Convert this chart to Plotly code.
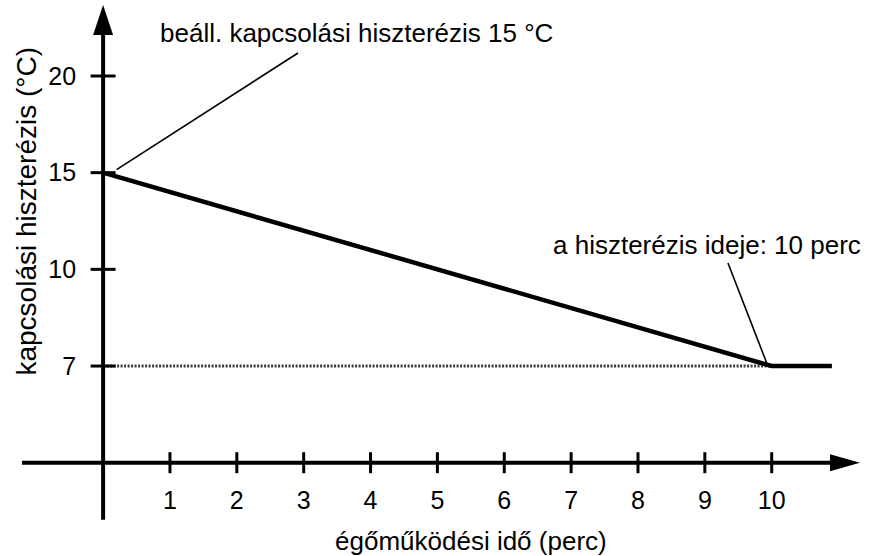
import numpy as np
import plotly.graph_objects as go

# --- data -----------------------------------------------------------------
burn_time = [0, 10, 10.9]          # égőműködési idő (perc)
hysteresis = [15, 7, 7]            # kapcsolási hiszterézis (°C)
x_ticks = [1, 2, 3, 4, 5, 6, 7, 8, 9, 10]
y_ticks = [7, 10, 15, 20]
y_tick_labels = ["7", "10", "15", "20"]
set_hysteresis = 15
min_hysteresis = 7
hysteresis_time = 10

# --- schematic vertical scale: tick values are drawn equally spaced -------
def level(v):
    return np.interp(v, y_ticks, np.arange(len(y_ticks)))

W, H = 875, 556
X_RANGE = [-1.542, 11.545]
Y_RANGE = [-1.965, 3.786]
BASE = -1.0  # level of the time axis, one step below the lowest tick


def dx(px):
    return px * (X_RANGE[1] - X_RANGE[0]) / W


def dy(px):
    return px * (Y_RANGE[1] - Y_RANGE[0]) / H


fig = go.Figure()

# dotted reference at the minimum hysteresis
fig.add_trace(go.Scatter(
    x=[0, hysteresis_time], y=[level(min_hysteresis)] * 2, mode="lines",
    line=dict(color="#3a3a3a", width=3, dash="2px,1.5px"),
    hoverinfo="skip", showlegend=False))

# hysteresis over burner run time
fig.add_trace(go.Scatter(
    x=burn_time, y=level(np.array(hysteresis)), mode="lines",
    line=dict(color="black", width=4.5), showlegend=False))

shapes = []
black = dict(color="black", width=4)

# axes with arrowheads
y_top = Y_RANGE[1] - dy(5)
x_tip = X_RANGE[0] + dx(860)
shapes.append(dict(type="line", x0=0, x1=0, y0=BASE - dy(57), y1=y_top - dy(28),
                   line=black))
shapes.append(dict(type="path", line=dict(width=0), fillcolor="black",
                   path=f"M {-dx(10)} {y_top - dy(30)} L 0 {y_top} L {dx(10)} {y_top - dy(30)} Z"))
shapes.append(dict(type="line", x0=X_RANGE[0] + dx(22), x1=x_tip - dx(28),
                   y0=BASE, y1=BASE, line=black))
shapes.append(dict(type="path", line=dict(width=0), fillcolor="black",
                   path=f"M {x_tip - dx(30)} {BASE + dy(8.5)} L {x_tip} {BASE} L {x_tip - dx(30)} {BASE - dy(8.5)} Z"))

# tick marks crossing the axes
for t in x_ticks:
    shapes.append(dict(type="line", x0=t, x1=t, y0=BASE - dy(10.5), y1=BASE + dy(10.5),
                       line=dict(color="black", width=3)))
for v in y_ticks:
    shapes.append(dict(type="line", x0=-dx(12.5), x1=dx(12.5), y0=level(v), y1=level(v),
                       line=dict(color="black", width=3)))

# leader lines for the callouts
thin = dict(color="black", width=1.6)
shapes.append(dict(type="line", x0=dx(13.5), y0=level(set_hysteresis) + dy(3),
                   x1=2.915, y1=3.238, line=thin))
shapes.append(dict(type="line", x0=hysteresis_time - dx(5), y0=level(min_hysteresis) + dy(3),
                   x1=9.346, y1=1.065, line=thin))

font = dict(family="Liberation Sans, Arial, sans-serif", color="black")

annotations = [
    dict(x=0.82, y=3.44, xref="x", yref="y", xanchor="left", yanchor="middle",
         text=f"beáll. kapcsolási hiszterézis {set_hysteresis} °C",
         showarrow=False, font=dict(size=26, **font)),
    dict(x=6.70, y=1.25, xref="x", yref="y", xanchor="left", yanchor="middle",
         text=f"a hiszterézis ideje: {hysteresis_time} perc",
         showarrow=False, font=dict(size=26, **font)),
    dict(x=5.50, y=-1.81, xref="x", yref="y", xanchor="center", yanchor="middle",
         text="égőműködési idő (perc)", showarrow=False, font=dict(size=26, **font)),
    dict(x=-1.15, y=1.60, xref="x", yref="y", xanchor="center", yanchor="middle",
         text="kapcsolási hiszterézis (°C)", textangle=-90,
         showarrow=False, font=dict(size=28, **font)),
]

fig.update_layout(
    width=W, height=H,
    margin=dict(l=0, r=0, t=0, b=0),
    plot_bgcolor="white", paper_bgcolor="white",
    shapes=shapes, annotations=annotations,
    xaxis=dict(range=X_RANGE, domain=[0, 1], tickvals=x_ticks,
               ticks="", showgrid=False, zeroline=False, showline=False,
               anchor="free",
               position=(BASE - Y_RANGE[0]) / (Y_RANGE[1] - Y_RANGE[0]),
               ticklabelstandoff=20, automargin=False,
               tickfont=dict(size=25, **font)),
    yaxis=dict(range=Y_RANGE, domain=[0, 1], tickvals=list(level(np.array(y_ticks))),
               ticktext=y_tick_labels, ticks="", showgrid=False, zeroline=False,
               showline=False, anchor="free",
               position=(0 - X_RANGE[0]) / (X_RANGE[1] - X_RANGE[0]),
               ticklabelstandoff=27, automargin=False,
               tickfont=dict(size=25, **font)),
)

fig.write_html("out.html")
